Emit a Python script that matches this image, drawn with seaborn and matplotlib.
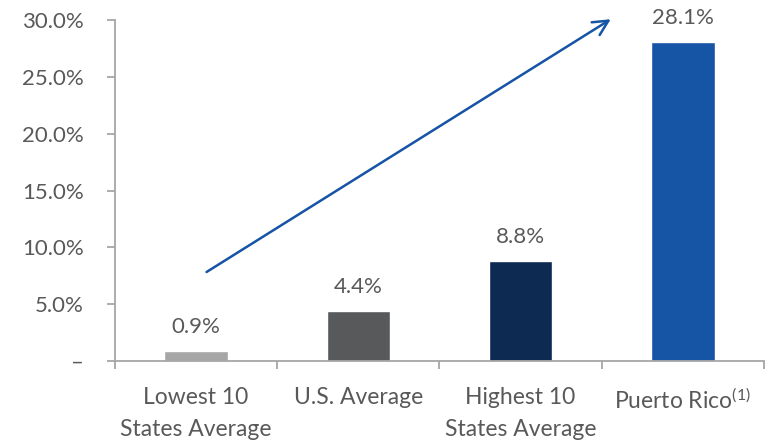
import matplotlib
matplotlib.use("Agg")
import matplotlib.pyplot as plt
import seaborn as sns
import pandas as pd
from matplotlib.ticker import FixedLocator

categories = ["Lowest 10\nStates Average", "U.S. Average", "Highest 10\nStates Average", "Puerto Rico$^{\\mathrm{(1)}}$"]
values = [0.9, 4.4, 8.8, 28.1]
value_labels = ["0.9%", "4.4%", "8.8%", "28.1%"]
colors = ["#a6a6a6", "#58595b", "#0c2a52", "#1654a6"]
ytick_values = [0, 5, 10, 15, 20, 25, 30]
ytick_labels = ["–", "5.0%", "10.0%", "15.0%", "20.0%", "25.0%", "30.0%"]
arrow_start = (0.05, 7.7)
arrow_end = (2.57, 30.2)

sns.set_theme(style="white")
plt.rcParams["font.family"] = ["Lato", "DejaVu Sans"]
plt.rcParams["mathtext.fontset"] = "custom"
plt.rcParams["mathtext.rm"] = "Lato"
plt.rcParams["mathtext.it"] = "Lato"

text_color = "#595959"
spine_color = "#a6a6a6"
fs = 16

df = pd.DataFrame({"cat": categories, "val": values})
fig = plt.figure(figsize=(7.82, 4.41), dpi=100)
ax = fig.add_axes([0.147, 0.1814, 0.83, 0.7732])
sns.barplot(data=df, x="cat", y="val", hue="cat", palette=colors, width=0.39,
            dodge=False, legend=False, ax=ax, saturation=1)

ax.set_ylim(0, 30)
ax.set_xlim(-0.5, 3.5)
ax.set_yticks(ytick_values)
ax.set_yticklabels(ytick_labels, fontsize=fs, color=text_color)
ax.set_xticks(range(len(categories)))
ax.set_xticklabels(categories, fontsize=fs + 0.5, color=text_color, linespacing=1.65)
ax.xaxis.set_minor_locator(FixedLocator([-0.5, 0.5, 1.5, 2.5, 3.5]))
ax.tick_params(axis="x", which="major", length=0, pad=19)
ax.tick_params(axis="x", which="minor", length=6, width=1.3, color=spine_color, direction="out", bottom=True)
ax.tick_params(axis="y", which="major", length=5.5, width=1.3, color=spine_color, direction="out", left=True, pad=17)

for s in ["top", "right"]:
    ax.spines[s].set_visible(False)
for s in ["left", "bottom"]:
    ax.spines[s].set_color(spine_color)
    ax.spines[s].set_linewidth(1.3)
ax.set_xlabel("")
ax.set_ylabel("")

for i, (v, lab) in enumerate(zip(values, value_labels)):
    ax.annotate(lab, (i, v), xytext=(0, 10), textcoords="offset points",
                ha="center", va="bottom", fontsize=fs, color=text_color, annotation_clip=False)

ax.annotate("", xy=arrow_end, xytext=arrow_start, annotation_clip=False,
            arrowprops=dict(arrowstyle="->,head_length=0.9,head_width=0.45", color="#1654a6", lw=1.8))

fig.savefig("out.png", dpi=100)
